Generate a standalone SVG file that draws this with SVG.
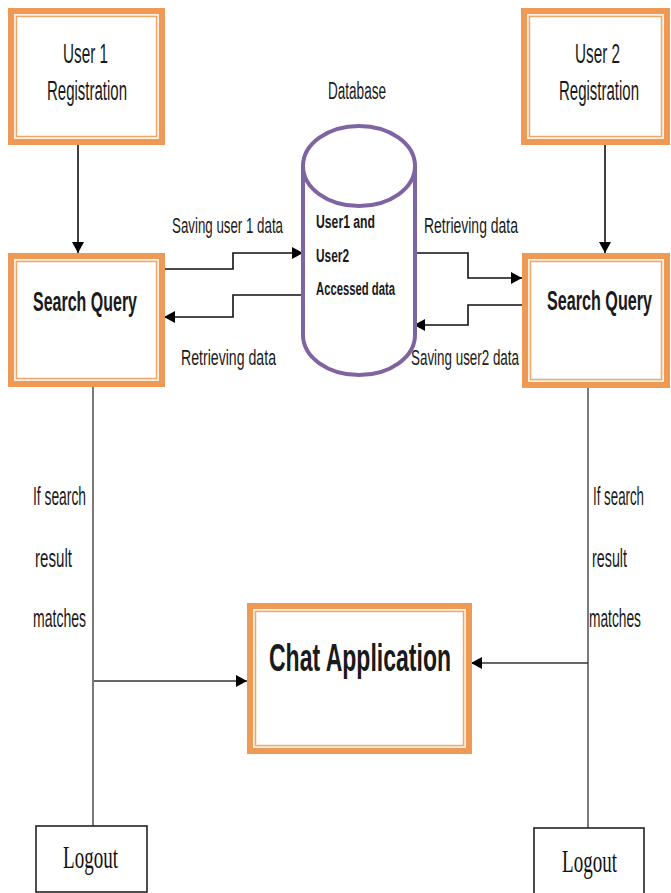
<svg xmlns="http://www.w3.org/2000/svg" width="671" height="893" viewBox="0 0 671 893">
<style>
.band{fill:#FDF0E4;stroke:#EE9A55;stroke-width:6}
.inner{fill:#FFFFFF;stroke:#F0A868;stroke-width:1.5}
.t{font-family:"Liberation Sans",Arial,sans-serif;fill:#1a1a1a}
.b{font-weight:bold}
.serif{font-family:"Liberation Serif","Times New Roman",serif;fill:#111}
.c{fill:none;stroke:#111;stroke-width:1.6}
.thin{fill:none;stroke:#333;stroke-width:1.3}
.box{fill:#fff;stroke:#222;stroke-width:1.6}
</style>
<defs>
<marker id="ah" markerUnits="userSpaceOnUse" markerWidth="12" markerHeight="12" refX="11" refY="6" orient="auto">
<path d="M0,0 L11,6 L0,12 z" fill="#000"/>
</marker>
</defs>
<rect width="671" height="893" fill="#fff"/>

<g id="connectors">
<path class="c" d="M78,145 V253" marker-end="url(#ah)"/>
<path class="c" d="M605,145 V253" marker-end="url(#ah)"/>
<path class="c" d="M165,269 H233 V253 H303" marker-end="url(#ah)"/>
<path class="c" d="M303,295 H233 V317 H164" marker-end="url(#ah)"/>
<path class="c" d="M415,253 H468 V278 H522" marker-end="url(#ah)"/>
<path class="c" d="M522,305 H468 V325 H414" marker-end="url(#ah)"/>
<path class="thin" d="M93,387 V826"/>
<path class="thin" d="M94,681 H247" marker-end="url(#ah)"/>
<path class="thin" d="M588,388 V828"/>
<path class="thin" d="M588,663 H471" marker-end="url(#ah)"/>
</g>

<g id="labels">
<text class="t" x="172" y="233" font-size="22" textLength="111" lengthAdjust="spacingAndGlyphs">Saving user 1 data</text>
<text class="t" x="424" y="233" font-size="22" textLength="94" lengthAdjust="spacingAndGlyphs">Retrieving data</text>
<text class="t" x="181" y="365" font-size="22" textLength="95" lengthAdjust="spacingAndGlyphs">Retrieving data</text>
<text class="t" x="411" y="365" font-size="22" textLength="108" lengthAdjust="spacingAndGlyphs">Saving user2 data</text>
<text class="t" x="33" y="505" font-size="25" textLength="53" lengthAdjust="spacingAndGlyphs">If search</text>
<text class="t" x="35" y="567" font-size="25" textLength="37" lengthAdjust="spacingAndGlyphs">result</text>
<text class="t" x="33" y="627" font-size="25" textLength="53" lengthAdjust="spacingAndGlyphs">matches</text>
<text class="t" x="593" y="505" font-size="25" textLength="51" lengthAdjust="spacingAndGlyphs">If search</text>
<text class="t" x="592" y="567" font-size="25" textLength="35" lengthAdjust="spacingAndGlyphs">result</text>
<text class="t" x="589" y="627" font-size="25" textLength="52" lengthAdjust="spacingAndGlyphs">matches</text>
<text class="t" x="328" y="99" font-size="23" textLength="58" lengthAdjust="spacingAndGlyphs">Database</text>
</g>

<g id="user1-registration">
<rect class="band" x="11" y="11" width="151" height="131"/>
<rect class="inner" x="16.5" y="16.5" width="140" height="120"/>
<text class="t" x="63" y="63" font-size="27" textLength="45" lengthAdjust="spacingAndGlyphs">User 1</text>
<text class="t" x="47" y="100" font-size="27" textLength="80" lengthAdjust="spacingAndGlyphs">Registration</text>
</g>

<g id="user2-registration">
<rect class="band" x="524" y="11" width="143" height="131"/>
<rect class="inner" x="529.5" y="16.5" width="132" height="120"/>
<text class="t" x="575" y="63" font-size="27" textLength="45" lengthAdjust="spacingAndGlyphs">User 2</text>
<text class="t" x="559" y="100" font-size="27" textLength="80" lengthAdjust="spacingAndGlyphs">Registration</text>
</g>

<g id="search-query-1">
<rect class="band" x="11" y="256" width="151" height="128"/>
<rect class="inner" x="16.5" y="261.5" width="140" height="117"/>
<text class="t b" x="33" y="311" font-size="27" textLength="104" lengthAdjust="spacingAndGlyphs">Search Query</text>
</g>

<g id="search-query-2">
<rect class="band" x="525" y="256" width="142" height="129"/>
<rect class="inner" x="530.5" y="261.5" width="131" height="118"/>
<text class="t b" x="547" y="310" font-size="27" textLength="105" lengthAdjust="spacingAndGlyphs">Search Query</text>
</g>

<g id="database">
<path d="M303,166 V335 A56,40 0 0 0 415,335 V166" fill="#fff" stroke="#8064A2" stroke-width="4"/>
<ellipse cx="359" cy="166" rx="56" ry="40" fill="#fff" stroke="#8064A2" stroke-width="4"/>
<text class="t b" x="316" y="228" font-size="18" textLength="59" lengthAdjust="spacingAndGlyphs">User1  and</text>
<text class="t b" x="316" y="262" font-size="18" textLength="33" lengthAdjust="spacingAndGlyphs">User2</text>
<text class="t b" x="316" y="295" font-size="18" textLength="79" lengthAdjust="spacingAndGlyphs">Accessed data</text>
</g>

<g id="chat-application">
<rect class="band" x="250" y="606" width="219" height="145"/>
<rect class="inner" x="255.5" y="611.5" width="208" height="134"/>
<text class="t b" x="269" y="671" font-size="39" textLength="182" lengthAdjust="spacingAndGlyphs">Chat  Application</text>
</g>

<g id="logout-1">
<rect class="box" x="36" y="826" width="111" height="66"/>
<text class="serif" x="63" y="868" font-size="32" textLength="55" lengthAdjust="spacingAndGlyphs">Logout</text>
</g>

<g id="logout-2">
<rect class="box" x="534" y="828" width="110" height="66"/>
<text class="serif" x="562" y="872" font-size="32" textLength="55" lengthAdjust="spacingAndGlyphs">Logout</text>
</g>
</svg>
